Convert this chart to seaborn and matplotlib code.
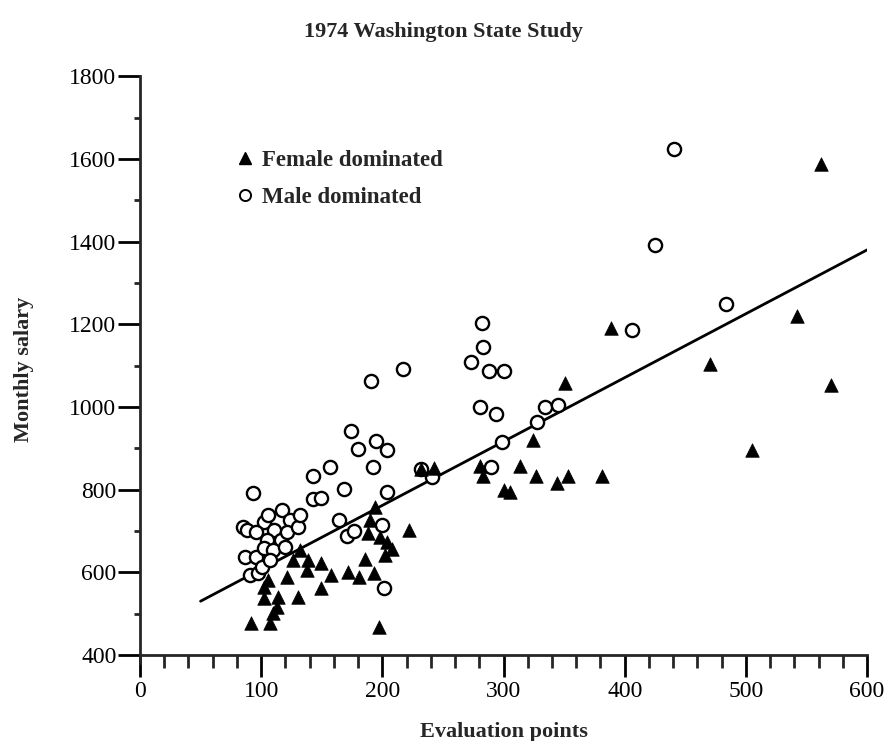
"""1974 Washington State Study: monthly salary vs evaluation points."""

import matplotlib

matplotlib.use("Agg")
import matplotlib.pyplot as plt
from matplotlib.lines import Line2D
from matplotlib.ticker import MultipleLocator
import pandas as pd
import seaborn as sns

# ---------------------------------------------------------------------------
# Data
# ---------------------------------------------------------------------------
FEMALE_POINTS = [92, 107, 110, 113, 102, 114, 130, 102, 149, 106, 121, 158, 138,
                 126, 139, 149, 132, 172, 181, 193, 186, 202, 208, 204, 198, 188,
                 190, 194, 222, 197, 232, 243, 281, 283, 300, 305, 314, 324, 327,
                 344, 353, 351, 381, 389, 470, 505, 542, 562, 570]
FEMALE_SALARY = [477, 477, 501, 516, 538, 540, 540, 564, 562, 581, 588, 593, 605,
                 630, 630, 622, 654, 600, 588, 598, 632, 642, 656, 673, 685, 695,
                 726, 757, 702, 468, 849, 852, 856, 832, 800, 795, 856, 919, 832,
                 815, 832, 1057, 832, 1192, 1105, 895, 1219, 1588, 1052]

MALE_POINTS = [93, 85, 88, 87, 96, 91, 97, 101, 102, 106, 117, 124, 111, 105, 116,
               102, 110, 120, 121, 96, 107, 130, 132, 143, 149, 143, 157, 164, 171,
               177, 200, 174, 195, 180, 204, 192, 168, 204, 201, 191, 217, 241, 232,
               273, 282, 283, 288, 300, 281, 294, 334, 345, 328, 299, 290, 406, 425,
               441, 484]
MALE_SALARY = [791, 709, 702, 637, 637, 593, 598, 613, 721, 738, 750, 726, 702, 678,
               678, 658, 654, 661, 697, 697, 630, 709, 738, 777, 779, 832, 854, 726,
               687, 700, 714, 943, 917, 898, 895, 854, 801, 794, 562, 1064, 1093, 830,
               849, 1108, 1202, 1144, 1086, 1088, 1001, 982, 999, 1004, 963, 914, 854,
               1187, 1393, 1625, 1250]

# fitted line (end points)
LINE_POINTS = [50, 600]
LINE_SALARY = [530, 1380]

FONT = ["Liberation Serif", "DejaVu Serif"]


def main() -> int:
    sns.set_theme(style="ticks")
    plt.rcParams["font.family"] = FONT
    plt.rcParams["font.weight"] = "bold"

    female = pd.DataFrame({"points": FEMALE_POINTS, "salary": FEMALE_SALARY})
    male = pd.DataFrame({"points": MALE_POINTS, "salary": MALE_SALARY})
    line = pd.DataFrame({"points": LINE_POINTS, "salary": LINE_SALARY})

    fig = plt.figure(figsize=(8.86, 7.41), dpi=100)
    ax = fig.add_axes([0.158, 0.105, 0.8206, 0.792])

    sns.lineplot(data=line, x="points", y="salary", color="black", lw=2.0, ax=ax)
    sns.scatterplot(data=male, x="points", y="salary", marker="o", s=90,
                    facecolor="white", edgecolor="black", linewidth=1.7, ax=ax,
                    zorder=3)
    sns.scatterplot(data=female, x="points", y="salary", marker="^", s=95,
                    color="black", edgecolor="black", linewidth=0.5, ax=ax,
                    zorder=4)

    ax.set_xlim(0, 600)
    ax.set_ylim(380, 1800)
    ax.spines["top"].set_visible(False)
    ax.spines["right"].set_visible(False)
    ax.spines["bottom"].set_position(("data", 400))
    ax.spines["left"].set_bounds(380, 1800)
    ax.spines["left"].set_linewidth(2.0)
    ax.spines["bottom"].set_linewidth(2.0)

    ax.xaxis.set_major_locator(MultipleLocator(100))
    ax.xaxis.set_minor_locator(MultipleLocator(20))
    ax.yaxis.set_minor_locator(MultipleLocator(100))
    ax.set_yticks(range(400, 1801, 200))
    ax.tick_params(axis="both", which="major", direction="out", length=16,
                   width=2.0, labelsize=17, colors="black", pad=1)
    ax.tick_params(axis="x", which="major", pad=3)
    ax.tick_params(axis="x", which="minor", direction="out", length=9, width=2.0)
    ax.tick_params(axis="y", which="minor", direction="out", length=4, width=2.0)
    for lab in ax.get_xticklabels() + ax.get_yticklabels():
        lab.set_fontweight("normal")

    ax.set_xlabel("Evaluation points", fontsize=16, fontweight="bold")
    ax.set_ylabel("Monthly salary", fontsize=16, fontweight="bold")
    ax.xaxis.set_label_coords(0.5, -0.1)
    ax.yaxis.set_label_coords(-0.146, 0.5)
    fig.suptitle("1974 Washington State Study", fontsize=16, fontweight="bold",
                 y=0.97)

    handles = [
        Line2D([], [], marker="^", ls="", color="black", markersize=8),
        Line2D([], [], marker="o", ls="", markerfacecolor="white",
               markeredgecolor="black", markeredgewidth=1.4, markersize=8),
    ]
    ax.legend(handles, ["Female dominated", "Male dominated"], loc="upper left",
              bbox_to_anchor=(0.1, 0.91), frameon=False, handletextpad=0.25,
              handlelength=1.0, labelspacing=0.7,
              prop={"family": FONT, "weight": "bold", "size": 16.5})

    fig.savefig("out.png", dpi=100)
    plt.close(fig)
    return 0


if __name__ == "__main__":
    raise SystemExit(main())
